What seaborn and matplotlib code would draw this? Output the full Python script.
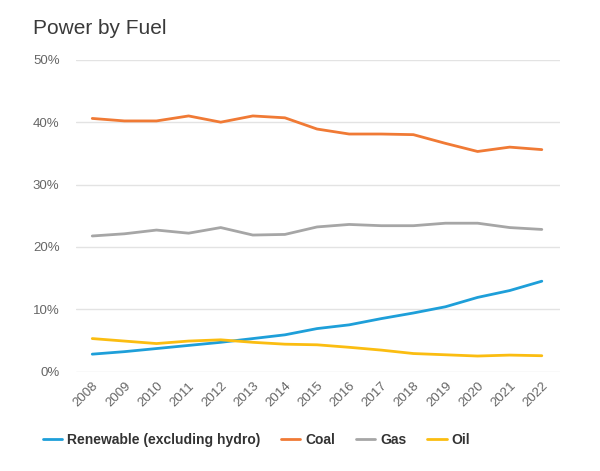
import numpy as np
import pandas as pd
import seaborn as sns
import matplotlib.pyplot as plt
from matplotlib.ticker import PercentFormatter

years = list(range(2008, 2023))
renewable = [2.8, 3.2, 3.7, 4.2, 4.7, 5.3, 5.9, 6.9, 7.5, 8.5, 9.4, 10.4, 11.9, 13.0, 14.5]
coal = [40.6, 40.2, 40.2, 41.0, 40.0, 41.0, 40.7, 38.9, 38.1, 38.1, 38.0, 36.6, 35.3, 36.0, 35.6]
gas = [21.75, 22.1, 22.7, 22.2, 23.1, 21.9, 22.0, 23.2, 23.6, 23.4, 23.4, 23.8, 23.8, 23.1, 22.8]
oil = [5.3, 4.9, 4.5, 4.9, 5.1, 4.7, 4.4, 4.3, 3.9, 3.45, 2.9, 2.7, 2.5, 2.65, 2.55]

fuels = ["Renewable (excluding hydro)", "Coal", "Gas", "Oil"]
colors = ["#1e9fd9", "#f07a35", "#a6a6a6", "#fbbd11"]

df = pd.DataFrame({"year": years, fuels[0]: renewable, fuels[1]: coal,
                   fuels[2]: gas, fuels[3]: oil})
long_df = df.melt(id_vars="year", var_name="fuel", value_name="share")

sns.set_style("white")
plt.rcParams["font.family"] = ["Liberation Sans", "DejaVu Sans"]

fig = plt.figure(figsize=(6, 4.71), dpi=100)
ax = fig.add_axes([0.127, 0.211, 0.806, 0.662])

sns.lineplot(data=long_df, x="year", y="share", hue="fuel", hue_order=fuels,
             palette=colors, linewidth=2, ax=ax, legend=False)

ax.set_xlim(2007.5, 2022.56)
ax.set_ylim(0, 50)
ax.set_yticks(np.arange(0, 51, 10))
ax.yaxis.set_major_formatter(PercentFormatter(decimals=0))
ax.set_xticks(years)
ax.set_xticklabels([str(y) for y in years], rotation=45, ha="right",
                   rotation_mode="anchor")
ax.tick_params(axis="both", labelsize=9.5, colors="#666666", length=0)
ax.tick_params(axis="x", pad=6)
ax.tick_params(axis="y", pad=12)
ax.grid(axis="y", color="#e3e3e3", linewidth=1)
ax.set_axisbelow(True)
for s in ax.spines.values():
    s.set_visible(False)
ax.set_xlabel("")
ax.set_ylabel("")

fig.text(0.055, 0.94, "Power by Fuel", fontsize=15, color="#3a3a3a", va="center")

handles = [plt.Line2D([], [], color=c, linewidth=2) for c in colors]
fig.legend(handles, fuels, loc="center left", bbox_to_anchor=(0.05, 0.066),
           ncol=4, frameon=False, handlelength=1.4, handletextpad=0.35,
           columnspacing=1.5, prop={"size": 10, "weight": "bold"},
           labelcolor="#333333")

fig.savefig("out.png", dpi=100)
